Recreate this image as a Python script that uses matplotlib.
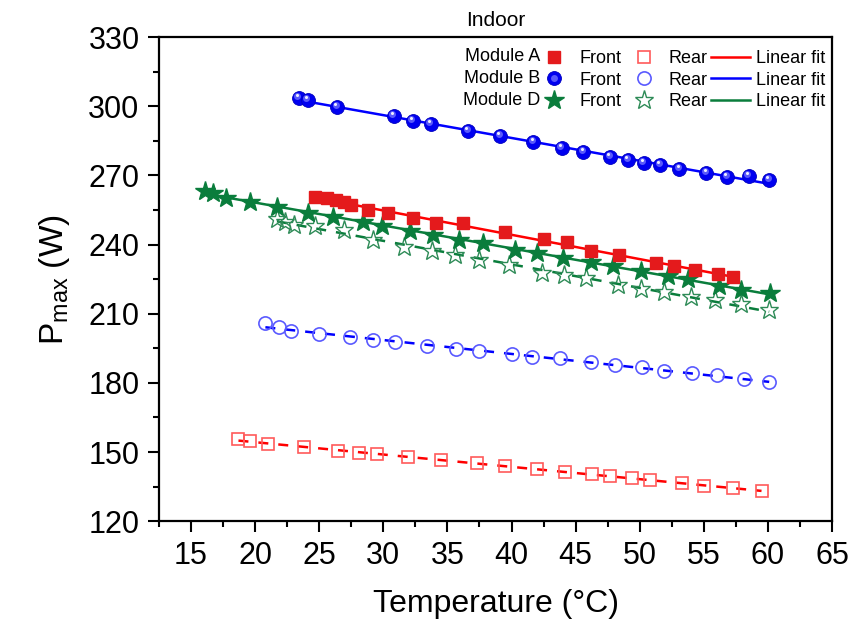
import numpy as np
import matplotlib
matplotlib.use('Agg')
import matplotlib.pyplot as plt
from matplotlib.ticker import MultipleLocator
from matplotlib.legend_handler import HandlerTuple
import matplotlib.transforms as mtransforms

plt.rcParams['font.family'] = ['Liberation Sans', 'DejaVu Sans']

# Module A
tA_front = [24.7, 25.6, 26.3, 26.9, 27.5, 28.8, 30.4, 32.3, 34.1, 36.2,
            39.5, 42.5, 44.3, 46.2, 48.4, 51.3, 52.7, 54.3, 56.1, 57.3]
pA_front = [260.6, 260.2, 259.3, 258.4, 257.1, 254.9, 253.6, 251.5, 249.3, 249.3,
            245.4, 242.4, 241.1, 237.2, 235.4, 232.0, 230.7, 228.9, 227.2, 225.9]
tA_rear = [18.7, 19.6, 21.0, 23.8, 26.5, 28.1, 29.5, 31.9, 34.5, 37.3, 39.5,
           42.0, 44.2, 46.3, 47.7, 49.4, 50.8, 53.3, 55.0, 57.3, 59.5]
pA_rear = [155.5, 154.9, 153.4, 152.0, 150.5, 149.7, 149.0, 147.9, 146.5, 145.1, 143.9,
           142.5, 141.4, 140.3, 139.5, 138.8, 137.8, 136.4, 135.4, 134.5, 133.0]

# Module B
tB_front = [23.4, 24.1, 26.4, 30.8, 32.3, 33.7, 36.6, 39.1, 41.7, 43.9,
            45.6, 47.7, 49.1, 50.3, 51.6, 53.1, 55.2, 56.8, 58.5, 60.1]
pB_front = [303.4, 302.7, 299.8, 295.7, 293.7, 292.3, 289.4, 287.0, 284.6, 281.7,
            280.2, 278.1, 276.6, 275.5, 274.5, 272.6, 270.9, 269.4, 269.7, 268.0]
tB_rear = [20.8, 21.9, 22.8, 25.0, 27.4, 29.2, 30.9, 33.4, 35.7, 37.5, 40.0,
           41.6, 43.8, 46.2, 48.1, 50.2, 51.9, 54.1, 56.0, 58.1, 60.1]
pB_rear = [205.8, 204.1, 202.5, 201.2, 199.7, 198.5, 197.8, 195.9, 194.9, 193.9, 192.5,
           191.4, 190.6, 189.1, 187.7, 186.7, 185.2, 184.1, 183.4, 181.5, 180.5]

# Module D
tD_front = [16.1, 16.7, 17.7, 19.6, 21.7, 24.1, 26.1, 28.4, 29.9, 32.1, 33.9, 35.9,
            37.8, 40.3, 42.0, 44.0, 46.2, 47.9, 50.1, 52.2, 53.8, 56.2, 57.9, 60.2]
pD_front = [263.3, 262.5, 260.0, 258.3, 256.4, 253.8, 252.0, 249.9, 248.0, 246.0, 244.1, 242.2,
            240.5, 237.6, 236.2, 234.4, 232.5, 230.8, 228.5, 226.3, 225.0, 222.0, 220.5, 218.9]
tD_rear = [21.7, 22.3, 23.0, 24.7, 26.9, 29.2, 31.6, 33.8, 35.6, 37.5, 39.8,
           42.4, 44.1, 45.8, 48.3, 50.1, 51.9, 54.0, 55.9, 57.9, 60.1]
pD_rear = [250.9, 249.9, 248.7, 248.0, 246.3, 241.9, 239.0, 237.3, 235.4, 233.3, 231.1,
           227.7, 226.7, 225.3, 222.4, 220.9, 219.5, 217.3, 215.9, 214.1, 211.6]

modules = ['Module A', 'Module B', 'Module D']

red = '#e41a1c'
blue = '#0000f0'
green = '#0a7d3c'

fig = plt.figure(figsize=(8.64, 6.19), dpi=100)
ax = fig.add_axes([0.184, 0.158, 0.779, 0.782])


def fit_line(t, p, color, ls):
    k, b = np.polyfit(t, p, 1)
    xs = np.array([min(t), max(t)])
    if ls == 'dashed':
        ln, = ax.plot(xs, k * xs + b, color=color, lw=1.8, dashes=(4, 4), zorder=2)
    else:
        ln, = ax.plot(xs, k * xs + b, color=color, lw=1.8, zorder=2)
    return ln


# rear first
hA_r, = ax.plot(tA_rear, pA_rear, ls='none', marker='s', ms=8.5, mfc='none',
                mec='#ff5a5a', mew=1.2, zorder=3)
hB_r, = ax.plot(tB_rear, pB_rear, ls='none', marker='o', ms=9.5, mfc='none',
                mec='#5a5aff', mew=1.2, zorder=3)
hD_r, = ax.plot(tD_rear, pD_rear, ls='none', marker='*', ms=14, mfc='none',
                mec='#2e8b57', mew=1.0, zorder=3)
fit_line(tA_rear, pA_rear, '#ff0000', 'dashed')
fit_line(tB_rear, pB_rear, '#0000ff', 'dashed')
fit_line(tD_rear, pD_rear, green, 'dashed')

# front
lD = fit_line(tD_front, pD_front, green, 'solid')
hD_f, = ax.plot(tD_front, pD_front, ls='none', marker='*', ms=15, color=green,
                mec=green, zorder=3)
lA = fit_line(tA_front, pA_front, '#ff0000', 'solid')
hA_f, = ax.plot(tA_front, pA_front, ls='none', marker='s', ms=9, color=red,
                mec=red, zorder=4)
lB = fit_line(tB_front, pB_front, '#0000ff', 'solid')
hB_f, = ax.plot(tB_front, pB_front, ls='none', marker='o', ms=10, color=blue,
                mec='#0000c0', mew=0.6, zorder=4)
# sphere highlight
hl = mtransforms.offset_copy(ax.transData, fig=fig, x=-1.0, y=1.5, units='points')
hB_h1, = ax.plot(tB_front, pB_front, ls='none', marker='o', ms=5, color='#7070ff',
                 mec='none', alpha=0.8, transform=hl, zorder=5)
hl2 = mtransforms.offset_copy(ax.transData, fig=fig, x=-1.3, y=2.3, units='points')
hB_h2, = ax.plot(tB_front, pB_front, ls='none', marker='o', ms=2.2, color='white',
                 mec='none', alpha=0.9, transform=hl2, zorder=6)

ax.set_xlim(12.5, 65)
ax.set_ylim(120, 330)
ax.xaxis.set_major_locator(MultipleLocator(5))
ax.xaxis.set_minor_locator(MultipleLocator(2.5))
ax.yaxis.set_major_locator(MultipleLocator(30))
ax.yaxis.set_minor_locator(MultipleLocator(15))
ax.set_xticks([15, 20, 25, 30, 35, 40, 45, 50, 55, 60, 65])
ax.tick_params(which='major', direction='out', length=8, width=1.5, labelsize=22, pad=6)
ax.tick_params(which='minor', direction='out', length=4.5, width=1.5)
for s in ax.spines.values():
    s.set_linewidth(1.6)

ax.set_xlabel('Temperature (°C)', fontsize=23, labelpad=13)
ax.set_ylabel('P$_{\\mathregular{max}}$ (W)', fontsize=24, labelpad=12)
ax.set_title('Indoor', fontsize=15, pad=8)

# legend
handles = [hA_f, (hB_f, hB_h1), hD_f, hA_r, hB_r, hD_r, lA, lB, lD]
labels = ['Front', 'Front', 'Front', 'Rear', 'Rear', 'Rear',
          'Linear fit', 'Linear fit', 'Linear fit']
ax.legend(handles, labels, ncol=3, loc='upper left', bbox_to_anchor=(0.557, 0.973),
          frameon=False, fontsize=13, handlelength=2.2, handletextpad=0.3,
          columnspacing=0.15, labelspacing=0.25, borderpad=0, borderaxespad=0,
          handler_map={tuple: HandlerTuple(ndivide=1, pad=0)})
for i, m in enumerate(modules):
    ax.text(0.566, 0.961 - i * 0.0455, m, transform=ax.transAxes, fontsize=13,
            ha='right', va='center')

fig.savefig('out.png', dpi=100)
